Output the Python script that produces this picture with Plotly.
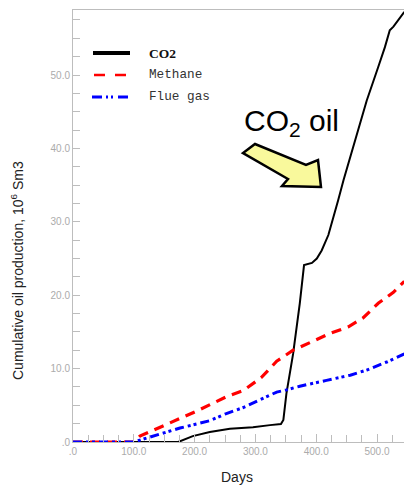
import plotly.graph_objects as go

# Cumulative oil production (10^6 Sm3) versus time (days) for three injection gases
days_co2 = [0, 173, 197, 225, 258, 296, 324, 342, 346, 351, 362, 373, 380, 393, 401,
            409, 420, 428, 436, 445, 464, 483, 502, 513, 521, 527, 545]
co2_oil = [0, 0, 0.8, 1.35, 1.8, 2.0, 2.3, 2.45, 3.0, 6.6, 12.0, 18.9, 24.1, 24.4, 25.0,
           26.1, 28.2, 30.4, 32.9, 35.7, 41.1, 46.5, 51.1, 53.8, 56.1, 56.6, 58.6]

days_methane = [0, 99, 110, 145, 175, 203, 253, 280, 310, 335, 362, 390, 423, 453, 477,
                502, 527, 545]
methane_oil = [0, 0, 0.8, 2.1, 3.1, 4.2, 6.2, 7.0, 8.8, 11.0, 12.5, 13.6, 14.8, 15.7, 16.9,
               18.9, 20.4, 21.9]

days_flue = [0, 100, 116, 150, 176, 225, 250, 280, 313, 335, 351, 373, 417, 456, 483, 516, 545]
flue_oil = [0, 0, 0.4, 1.3, 1.9, 2.9, 3.8, 4.7, 6.0, 6.8, 7.1, 7.6, 8.4, 9.1, 9.8, 10.9, 12.0]

x_ticks = [0, 100, 200, 300, 400, 500]
x_labels = [".0", "100.0", "200.0", "300.0", "400.0", "500.0"]
y_ticks = [0, 10, 20, 30, 40, 50]
y_labels = [".0", "10.0", "20.0", "30.0", "40.0", "50.0"]

series_names = ["CO2", "Methane", "Flue gas"]
series_colors = ["#000000", "#ff0000", "#0000ff"]

W, H = 404, 486
L, R, T, B = 73, 0, 10, 44


def paper(x, y):
    """Convert a pixel position on the page to paper coordinates."""
    return (x - L) / (W - L - R), (H - B - y) / (H - T - B)


fig = go.Figure()
fig.add_trace(go.Scatter(x=days_co2, y=co2_oil, mode="lines", name=series_names[0],
                         line=dict(color=series_colors[0], width=2)))
fig.add_trace(go.Scatter(x=days_methane, y=methane_oil, mode="lines", name=series_names[1],
                         line=dict(color=series_colors[1], width=3.2, dash="10px,7px")))
fig.add_trace(go.Scatter(x=days_flue, y=flue_oil, mode="lines", name=series_names[2],
                         line=dict(color=series_colors[2], width=3,
                                   dash="9px,4px,3px,3px,3px,4px")))

axis_grey = "#bdbdbd"
tick_font = dict(family="Liberation Sans, Arial, sans-serif", size=10, color="#ababab")

fig.update_xaxes(range=[0, 544.4], tickvals=x_ticks, ticktext=x_labels,
                 ticks="inside", ticklen=8, tickcolor=axis_grey, tickwidth=1,
                 showline=True, linecolor=axis_grey, linewidth=1, mirror=True,
                 showgrid=False, zeroline=False, tickfont=tick_font,
                 minor=dict(tickmode="linear", tick0=0, dtick=25, ticks="inside",
                            ticklen=7, tickcolor=axis_grey, showgrid=False))
fig.update_yaxes(range=[0, 58.86], tickvals=y_ticks, ticktext=y_labels,
                 ticks="inside", ticklen=7, tickcolor=axis_grey, tickwidth=1,
                 showline=True, linecolor=axis_grey, linewidth=1,
                 showgrid=False, zeroline=False, tickfont=tick_font,
                 minor=dict(tickmode="linear", tick0=0, dtick=2.5, ticks="inside",
                            ticklen=7, tickcolor=axis_grey, showgrid=False))

shapes = []
annotations = []

# Legend block in the upper left corner
legend_rows = [
    (53, 4, "solid", 93, 130),
    (75, 2.6, "11px,10px", 94, 128),
    (97, 3, "10px,4px,2px,3px,2px,5px", 92, 128),
]
legend_fonts = [
    dict(family="Liberation Serif, Times New Roman, serif", size=13.5, color="#111"),
    dict(family="Liberation Mono, Courier New, monospace", size=12.7, color="#333"),
    dict(family="Liberation Mono, Courier New, monospace", size=12.7, color="#333"),
]
for (yy, w, dash, x0, x1), name, color, font in zip(legend_rows, series_names,
                                                     series_colors, legend_fonts):
    p0 = paper(x0, yy)
    p1 = paper(x1, yy)
    shapes.append(dict(type="line", xref="paper", yref="paper", x0=p0[0], y0=p0[1],
                       x1=p1[0], y1=p1[1], line=dict(color=color, width=w, dash=dash)))
    tx, ty = paper(147, yy)
    label = f"<b>{name}</b>" if name == "CO2" else name
    annotations.append(dict(x=tx, y=ty, xref="paper", yref="paper", text=label,
                            showarrow=False, xanchor="left", yanchor="middle", font=font))

# Yellow block arrow pointing at the CO2 curve
arrow_pts = [(255, 144), (306, 165), (318, 160), (321, 187), (282, 186),
             (288, 179), (243, 153)]
arrow_path = "M " + " L ".join(
    f"{paper(x, y)[0]:.4f},{paper(x, y)[1]:.4f}" for x, y in arrow_pts) + " Z"
shapes.append(dict(type="path", xref="paper", yref="paper", path=arrow_path,
                   fillcolor="#f9f99c", line=dict(color="#000000", width=2.5)))

cx, cy = paper(242, 122)
annotations.append(dict(x=cx, y=cy, xref="paper", yref="paper",
                        text="CO<sub>2</sub> oil", showarrow=False,
                        xanchor="left", yanchor="middle",
                        font=dict(family="Liberation Sans, Arial, sans-serif", size=30,
                                  color="#000")))

# Axis titles
yx, yy_ = paper(17, 271)
annotations.append(dict(x=yx, y=yy_, xref="paper", yref="paper",
                        text="Cumulative oil production, 10<sup>6</sup> Sm3",
                        showarrow=False, textangle=-90, xanchor="center", yanchor="middle",
                        font=dict(family="Liberation Sans, Arial, sans-serif", size=14,
                                  color="#222")))
dx, dy = paper(237, 477)
annotations.append(dict(x=dx, y=dy, xref="paper", yref="paper", text="Days",
                        showarrow=False, xanchor="center", yanchor="middle",
                        font=dict(family="Liberation Sans, Arial, sans-serif", size=14,
                                  color="#222")))

fig.update_layout(width=W, height=H, margin=dict(l=L, r=R, t=T, b=B, pad=0),
                  paper_bgcolor="white", plot_bgcolor="white", showlegend=False,
                  shapes=shapes, annotations=annotations)

fig.write_html("out.html")
